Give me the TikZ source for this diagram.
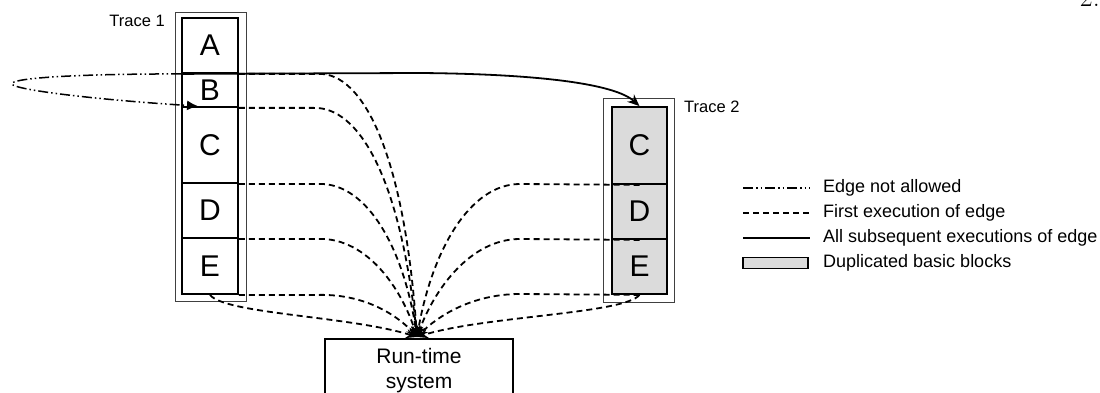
\documentclass[tikz,border=0pt]{standalone}
\usepackage{fontspec}
\newfontfamily\sans{Liberation Sans}
\usetikzlibrary{arrows.meta}
\begin{document}
\begin{tikzpicture}[x=1pt,y=-1pt,
  blk/.style={draw, line width=1.8pt, minimum width=56pt, inner sep=0pt, font=\sans\fontsize{30}{30}\selectfont},
  dup/.style={blk, fill=gray!28},
  frame/.style={draw=black!75, line width=0.9pt},
  lbl/.style={font=\sans\fontsize{16.5}{18}\selectfont, inner sep=0pt},
  leg/.style={font=\sans\fontsize{18}{20}\selectfont, inner sep=0pt, anchor=west},
  first/.style={line width=1.8pt, dash pattern=on 6pt off 4pt},
  firstarrow/.style={first, -{Stealth[length=11pt,width=9pt]}},
  later/.style={line width=1.8pt},
  notallowed/.style={line width=1.5pt, dash pattern=on 10pt off 3pt on 1.5pt off 3pt on 1.5pt off 3pt},
]
\useasboundingbox (0,0) rectangle (1100,393);

% page number at the top edge
\node[anchor=base east, inner sep=0pt, font=\fontsize{28}{28}\selectfont] (pg) at (1100,6.5) {2.};

% Trace 1
\draw[frame] (175,12) rectangle (246,301);
\node[lbl, anchor=east] (tr1) at (165,21) {Trace 1};
\node[blk, minimum height=55pt] (a1) at (210,45.5) {A};
\node[blk, minimum height=34pt] (b1) at (210,90) {B};
\node[blk, minimum height=76pt] (c1) at (210,145) {C};
\node[blk, minimum height=55pt] (d1) at (210,210.5) {D};
\node[blk, minimum height=56pt] (e1) at (210,266) {E};

% Trace 2 (duplicated blocks)
\draw[frame] (603,98) rectangle (674,302);
\node[lbl, anchor=west] (tr2) at (684,107) {Trace 2};
\node[dup, minimum height=77pt, minimum width=55pt] (c2) at (639.5,145.5) {C};
\node[dup, minimum height=55pt, minimum width=55pt] (d2) at (639.5,211.5) {D};
\node[dup, minimum height=55pt, minimum width=55pt] (e2) at (639.5,266.5) {E};

% Run-time system
\node[draw, line width=1.5pt, minimum width=188pt, minimum height=64pt, anchor=north, inner sep=0pt]
      (rts) at (419,338) {};
\node[font=\sans\fontsize{21}{25}\selectfont, inner sep=0pt, anchor=base] (rtsa) at (419,363) {Run-time};
\node[font=\sans\fontsize{21}{25}\selectfont, inner sep=0pt, anchor=base] (rtsb) at (419,388) {system};
\coordinate (P) at (417,337);

% first executions from trace 1 to the run-time system
\draw[firstarrow] (a1.south east) -- ++(80,0) .. controls (362,73) and (404,150) .. (P);
\draw[firstarrow] (b1.south east) -- ++(75,0) .. controls (358,107) and (400,175) .. (P);
\draw[firstarrow] (c1.south east) -- ++(80,0) .. controls (368,183) and (404,250) .. (P);
\draw[firstarrow] (d1.south east) -- ++(80,0) .. controls (368,238) and (402,290) .. (P);
\draw[firstarrow] (e1.south east) -- ++(80,0) .. controls (368,294) and (400,318) .. (P);
\draw[firstarrow] (e1.south) .. controls (225,314) and (350,316) .. (P);

% first executions from trace 2 to the run-time system
\draw[firstarrow] (c2.south) -- (520,184) .. controls (470,184) and (432,250) .. (P);
\draw[firstarrow] (d2.south) -- (520,239) .. controls (470,239) and (434,290) .. (P);
\draw[firstarrow] (e2.south) -- (520,294) .. controls (470,294) and (436,318) .. (P);
\draw[firstarrow] (e2.south) .. controls (624,314) and (484,316) .. (P);

% subsequent executions jump into trace 2
\draw[later, -{Stealth[length=12pt,width=10pt]}] (a1.south west) -- (420,73)
  .. controls (540,74) and (615,84) .. (c2.north);

% edge that is not allowed
\draw[notallowed, -{Latex[length=11pt,width=10pt]}] (a1.south west)
  .. controls (60,74) and (10,79) .. (12,84)
  .. controls (14,90) and (100,100) .. (c1.north west -| 198,0);

% legend
\coordinate (l1a) at (743,188); \coordinate (l1b) at (810,188);
\coordinate (l2a) at (743,213); \coordinate (l2b) at (810,213);
\coordinate (l3a) at (743,238); \coordinate (l3b) at (810,238);
\draw[notallowed] (l1a) -- (l1b);
\draw[first] (l2a) -- (l2b);
\draw[later] (l3a) -- (l3b);
\node[draw, line width=1.3pt, fill=gray!28, minimum width=65pt, minimum height=11pt, inner sep=0pt] (l4) at (775.5,263) {};
\node[leg] (t1) at (823,188) {Edge not allowed};
\node[leg] (t2) at (823,213) {First execution of edge};
\node[leg] (t3) at (823,238) {All subsequent executions of edge};
\node[leg] (t4) at (823,263) {Duplicated basic blocks};
\end{tikzpicture}
\end{document}
